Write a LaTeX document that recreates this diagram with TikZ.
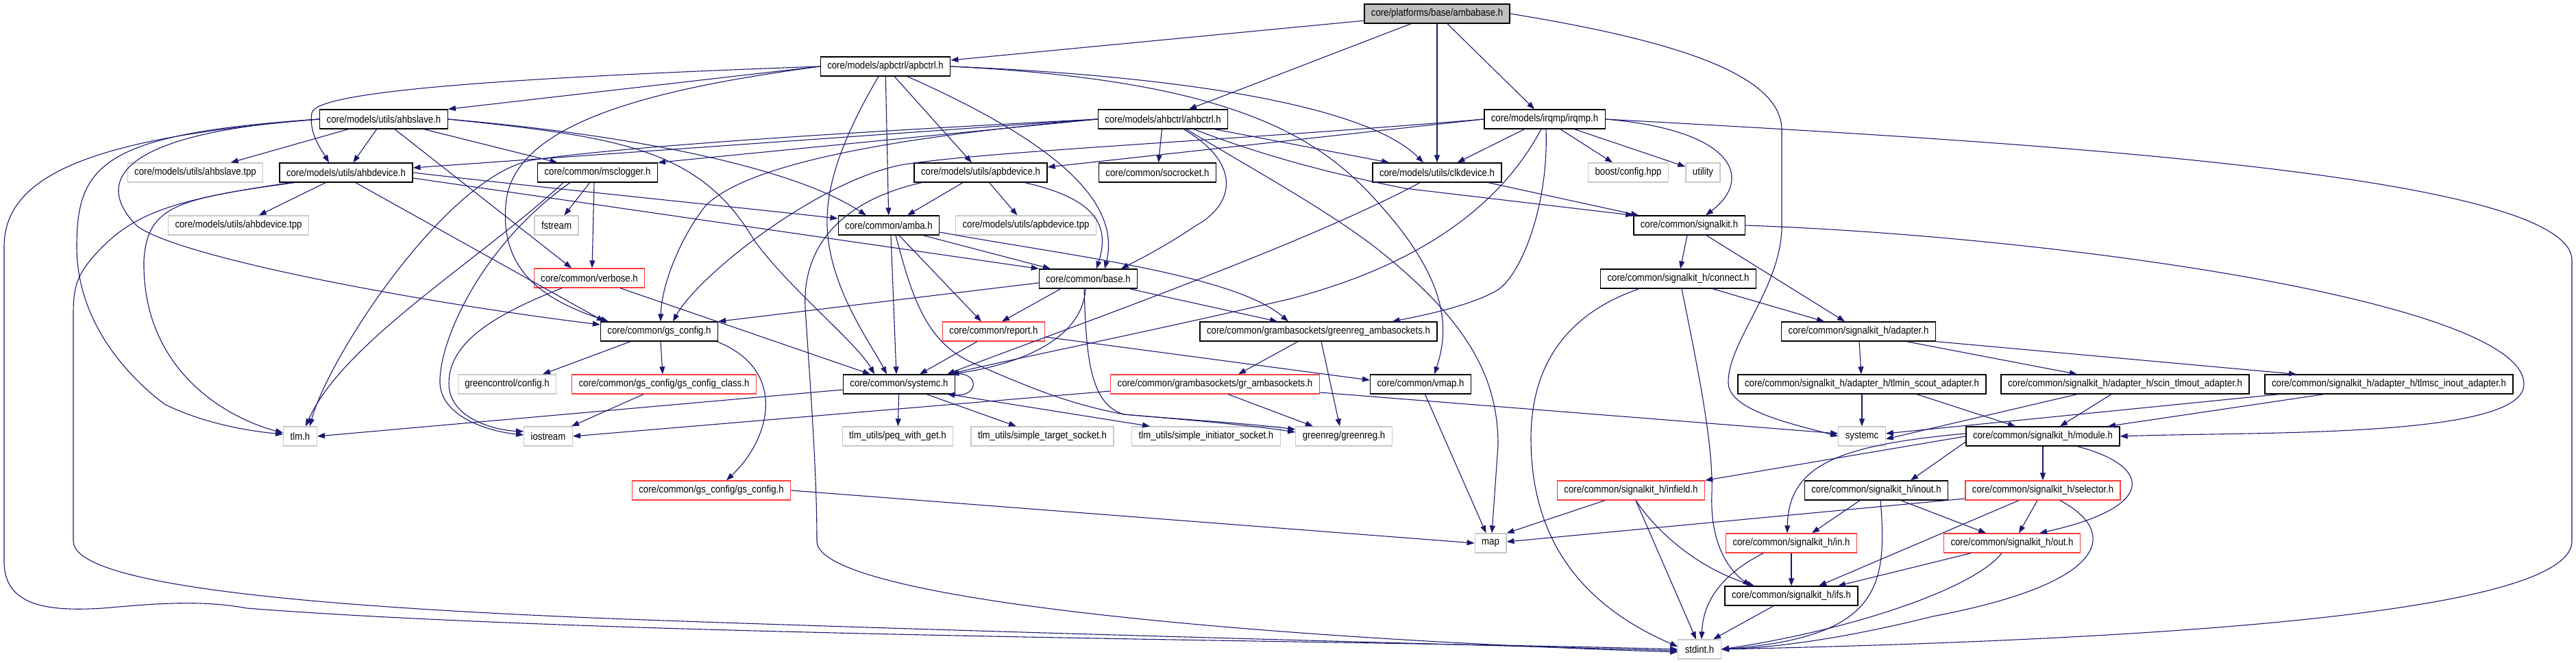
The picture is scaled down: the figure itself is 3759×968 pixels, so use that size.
\documentclass[tikz,border=0pt]{standalone}
\usepackage{fontspec}
\newfontfamily\dxfont{Liberation Sans}[FakeStretch=0.88]
\usetikzlibrary{arrows.meta}
\definecolor{edgeblue}{RGB}{25,25,112}
\definecolor{dxred}{RGB}{255,60,60}
\definecolor{dxgray}{RGB}{200,200,200}
\definecolor{dxfill}{RGB}{191,191,191}

\begin{document}
\begin{tikzpicture}[x=1pt, y=-1pt,
    box/.style={draw, fill=white, line width=1.3pt, minimum height=28pt,
      inner xsep=10pt, inner ysep=0pt, font=\dxfont\fontsize{15}{16}\selectfont},
    redbox/.style={box, draw=dxred},
    extbox/.style={box, draw=dxgray},
    topbox/.style={box, fill=dxfill},
    arrow/.style={->, draw=edgeblue, line width=1.1pt, >={Triangle[length=11pt, width=8pt]}},
  ]
  \useasboundingbox (0,0) rectangle (3759,968);

  % files
  \node[topbox] (ambabase) at (2097,20) {core/platforms/base/ambabase.h};
  \node[box] (apbctrl) at (1292,97) {core/models/apbctrl/apbctrl.h};
  \node[box] (ahbslave) at (560,174) {core/models/utils/ahbslave.h};
  \node[box] (ahbctrl) at (1697,174) {core/models/ahbctrl/ahbctrl.h};
  \node[box] (irqmp) at (2254,174) {core/models/irqmp/irqmp.h};
  \node[extbox] (ahbslavetpp) at (285,252) {core/models/utils/ahbslave.tpp};
  \node[box] (ahbdev) at (505,252) {core/models/utils/ahbdevice.h};
  \node[box] (msclog) at (872,252) {core/common/msclogger.h};
  \node[box] (apbdev) at (1431,252) {core/models/utils/apbdevice.h};
  \node[box] (socrocket) at (1689,252) {core/common/socrocket.h};
  \node[box] (clkdev) at (2097,252) {core/models/utils/clkdevice.h};
  \node[extbox] (boostcfg) at (2376,252) {boost/config.hpp};
  \node[extbox] (utility) at (2485,252) {utility};
  \node[extbox] (ahbdevtpp) at (348,329) {core/models/utils/ahbdevice.tpp};
  \node[extbox] (fstream) at (812,329) {fstream};
  \node[box] (amba) at (1297,329) {core/common/amba.h};
  \node[extbox] (apbdevtpp) at (1497,329) {core/models/utils/apbdevice.tpp};
  \node[box] (sigkit) at (2465,329) {core/common/signalkit.h};
  \node[redbox] (verbose) at (860,406) {core/common/verbose.h};
  \node[box] (base) at (1588,407) {core/common/base.h};
  \node[box] (connect) at (2449,407) {core/common/signalkit\_h/connect.h};
  \node[box] (gsconfig) at (962,484) {core/common/gs\_config.h};
  \node[redbox] (report) at (1450,484) {core/common/report.h};
  \node[box] (grambagreen) at (1924,484) {core/common/grambasockets/greenreg\_ambasockets.h};
  \node[box] (adapter) at (2712,484) {core/common/signalkit\_h/adapter.h};
  \node[extbox] (gccfg) at (740,561) {greencontrol/config.h};
  \node[redbox] (gscfgclass) at (969,561) {core/common/gs\_config/gs\_config\_class.h};
  \node[box] (sysc) at (1312,561) {core/common/systemc.h};
  \node[redbox] (grambas) at (1773,561) {core/common/grambasockets/gr\_ambasockets.h};
  \node[box] (vmap) at (2073,561) {core/common/vmap.h};
  \node[box] (scout) at (2717,561) {core/common/signalkit\_h/adapter\_h/tlmin\_scout\_adapter.h};
  \node[box] (scin) at (3101,561) {core/common/signalkit\_h/adapter\_h/scin\_tlmout\_adapter.h};
  \node[box] (scinout) at (3486,561) {core/common/signalkit\_h/adapter\_h/tlmsc\_inout\_adapter.h};
  \node[extbox] (tlmh) at (438,637) {tlm.h};
  \node[extbox] (iostream) at (800,637) {iostream};
  \node[extbox] (peq) at (1310,637) {tlm\_utils/peq\_with\_get.h};
  \node[extbox] (starget) at (1521,637) {tlm\_utils/simple\_target\_socket.h};
  \node[extbox] (sinit) at (1760,637) {tlm\_utils/simple\_initiator\_socket.h};
  \node[extbox] (greenreg) at (1961,637) {greenreg/greenreg.h};
  \node[extbox] (systemc) at (2717,637) {systemc};
  \node[box] (module) at (2981,637) {core/common/signalkit\_h/module.h};
  \node[redbox] (gscfggs) at (1038,716) {core/common/gs\_config/gs\_config.h};
  \node[redbox] (infield) at (2380,716) {core/common/signalkit\_h/infield.h};
  \node[box] (inout) at (2738,716) {core/common/signalkit\_h/inout.h};
  \node[redbox] (selector) at (2981,716) {core/common/signalkit\_h/selector.h};
  \node[extbox] (map) at (2175,793) {map};
  \node[redbox] (inh) at (2614,793) {core/common/signalkit\_h/in.h};
  \node[redbox] (outh) at (2936,793) {core/common/signalkit\_h/out.h};
  \node[box] (ifs) at (2614,870) {core/common/signalkit\_h/ifs.h};
  \node[extbox] (stdint) at (2480,948) {stdint.h};

  % ambabase.h
  \draw[arrow] (ambabase) -- (apbctrl);
  \draw[arrow] (ambabase) -- (ahbctrl);
  \draw[arrow] (ambabase) -- (clkdev);
  \draw[arrow] (ambabase) -- (irqmp);
  \draw[arrow] (ambabase.east) .. controls (2450,60) and (2600,110) .. (2600,190) -- (2600,330) .. controls (2600,420) and (2520,500) .. (2522,560) .. controls (2524,600) and (2620,620) .. (systemc.west);

  % apbctrl.h
  \draw[arrow] (apbctrl.west) .. controls (700,115) and (460,135) .. (455,165) .. controls (450,195) and (470,220) .. ([xshift=-25pt]ahbdev.north);
  \draw[arrow] (apbctrl.west) -- (ahbslave.north east);
  \draw[arrow] (apbctrl.west) .. controls (950,130) and (745,180) .. (738,300) .. controls (730,400) and (800,440) .. ([xshift=12pt]gsconfig.north west);
  \draw[arrow] ([xshift=-10pt]apbctrl.south) .. controls (1230,200) and (1205,270) .. (1207,330) .. controls (1210,420) and (1270,500) .. ([xshift=-18pt]sysc.north);
  \draw[arrow] (apbctrl) -- (amba);
  \draw[arrow] (apbctrl) -- (apbdev);
  \draw[arrow] ([xshift=32pt]apbctrl.south) .. controls (1500,190) and (1640,280) .. ([xshift=24pt]base.north);
  \draw[arrow] (apbctrl.east) .. controls (1700,110) and (1990,150) .. ([xshift=-20pt]clkdev.north);
  \draw[arrow] (apbctrl.east) .. controls (1850,120) and (1950,220) .. (2040,330) .. controls (2110,420) and (2115,480) .. ([xshift=20pt]vmap.north);

  % ahbslave.h
  \draw[arrow] (ahbslave) -- (ahbslavetpp);
  \draw[arrow] (ahbslave) -- (ahbdev);
  \draw[arrow] (ahbslave) -- (msclog);
  \draw[arrow] ([xshift=16pt]ahbslave.south) -- ([xshift=-26pt]verbose.north);
  \draw[arrow] (ahbslave.west) .. controls (150,200) and (6,250) .. (6,360) -- (6,820) .. controls (6,885) and (70,893) .. (150,888) .. controls (220,882) and (290,875) .. (360,888) .. controls (900,930) and (2000,935) .. (stdint.west);
  \draw[arrow] (ahbslave.west) .. controls (150,195) and (112,240) .. (112,360) .. controls (112,480) and (200,560) .. (240,590) .. controls (300,620) and (370,630) .. ([yshift=3pt]tlmh.west);
  \draw[arrow] (ahbslave.west) .. controls (160,195) and (140,270) .. (200,330) .. controls (260,375) and (600,440) .. ([yshift=10pt]gsconfig.west);
  \draw[arrow] (ahbslave.east) .. controls (900,195) and (1150,240) .. ([xshift=-33pt]amba.north);
  \draw[arrow] (ahbslave.east) .. controls (900,200) and (1020,215) .. (1100,350) .. controls (1150,420) and (1250,500) .. ([xshift=-36pt]sysc.north);

  % ahbdevice.h
  \draw[arrow] (ahbdev) -- (ahbdevtpp);
  \draw[arrow] ([xshift=-80pt]ahbdev.south) .. controls (260,290) and (200,310) .. (150,360) .. controls (110,400) and (107,420) .. (107,460) -- (107,790) .. controls (107,850) and (400,885) .. (940,905) .. controls (1500,925) and (2100,940) .. ([yshift=-2pt]stdint.west);
  \draw[arrow] ([xshift=-75pt]ahbdev.south) .. controls (260,290) and (215,300) .. (210,380) .. controls (207,540) and (330,610) .. ([yshift=5pt]tlmh.west);
  \draw[arrow] ([xshift=14pt]ahbdev.south) -- ([xshift=6pt]gsconfig.north west);
  \draw[arrow] (ahbdev.east) .. controls (800,275) and (1100,305) .. ([yshift=10pt]amba.west);
  \draw[arrow] ([yshift=-8pt]ahbdev.east) -- (base.north west);

  % msclogger.h
  \draw[arrow] (msclog) -- (fstream);
  \draw[arrow] ([xshift=-5pt]msclog.south) -- ([xshift=4pt]verbose.north);
  \draw[arrow] ([xshift=-40pt]msclog.south) .. controls (700,360) and (640,500) .. (642,560) .. controls (645,610) and (715,630) .. ([yshift=2pt]iostream.west);
  \draw[arrow] ([xshift=-50pt]msclog.south) .. controls (700,380) and (500,500) .. ([xshift=8pt]tlmh.north);

  % ahbctrl.h
  \draw[arrow] (ahbctrl) -- (socrocket);
  \draw[arrow] (ahbctrl.west) -- ([yshift=7pt]ahbdev.east);
  \draw[arrow] (ahbctrl.west) -- (msclog.north east);
  \draw[arrow] (ahbctrl.west) .. controls (1200,195) and (900,215) .. (775,234) .. controls (650,260) and (480,520) .. ([xshift=14pt]tlmh.north);
  \draw[arrow] (ahbctrl.west) .. controls (1300,200) and (1090,240) .. (1030,300) .. controls (990,350) and (965,420) .. ([xshift=2pt]gsconfig.north);
  \draw[arrow] ([xshift=30pt]ahbctrl.south) .. controls (1815,240) and (1800,300) .. (1744,330) .. controls (1700,360) and (1660,380) .. ([xshift=48pt]base.north);
  \draw[arrow] ([xshift=-20pt]ahbctrl.south east) -- ([xshift=-70pt]clkdev.north);
  \draw[arrow] ([xshift=45pt]ahbctrl.south) .. controls (1850,230) and (1950,255) .. (2050,275) -- (sigkit.north west);
  \draw[arrow] ([xshift=34pt]ahbctrl.south) .. controls (1850,260) and (1960,320) .. (2030,380) .. controls (2150,480) and (2186,560) .. (2186,650) -- ([xshift=2pt]map.north);

  % irqmp.h
  \draw[arrow] (irqmp) -- (clkdev);
  \draw[arrow] (irqmp) -- (boostcfg);
  \draw[arrow] (irqmp) -- (utility);
  \draw[arrow] (irqmp.east) .. controls (2530,190) and (2560,260) .. ([xshift=24pt]sigkit.north);
  \draw[arrow] (irqmp.east) .. controls (2900,205) and (3753,250) .. (3753,380) -- (3753,790) .. controls (3753,900) and (3100,935) .. (stdint.east);
  \draw[arrow] (irqmp.west) -- ([yshift=8pt]apbdev.east);
  \draw[arrow] (irqmp.west) .. controls (1800,205) and (1450,220) .. (1320,240) .. controls (1200,260) and (1020,400) .. ([xshift=20pt]gsconfig.north);
  \draw[arrow] ([xshift=-5pt]irqmp.south) .. controls (2200,280) and (2100,380) .. (1880,437) .. controls (1650,490) and (1450,530) .. ([xshift=-8pt]sysc.north east);
  \draw[arrow] ([xshift=2pt]irqmp.south) .. controls (2260,300) and (2220,400) .. (2186,423) .. controls (2150,445) and (2080,460) .. ([xshift=-66pt]grambagreen.north east);

  % clkdevice.h
  \draw[arrow] ([xshift=-25pt]clkdev.south) .. controls (1900,360) and (1500,500) .. ([xshift=-12pt]sysc.north east);
  \draw[arrow] ([xshift=-20pt]clkdev.south east) -- ([xshift=8pt]sigkit.north west);

  % signalkit.h
  \draw[arrow] (sigkit) -- (connect);
  \draw[arrow] ([xshift=25pt]sigkit.south) -- ([xshift=-20pt]adapter.north);
  \draw[arrow] (sigkit.east) .. controls (3000,345) and (3680,440) .. (3683,560) .. controls (3686,640) and (3300,630) .. (module.east);
  \draw[arrow] (connect) -- (adapter);
  \draw[arrow] ([xshift=-57pt]connect.south) .. controls (2280,460) and (2234,540) .. (2234,640) .. controls (2234,780) and (2300,880) .. ([yshift=4pt]stdint.west);
  \draw[arrow] ([xshift=5pt]connect.south) .. controls (2480,550) and (2500,650) .. (2498,720) .. controls (2495,790) and (2520,830) .. ([xshift=-60pt]ifs.north);

  % adapters
  \draw[arrow] (adapter) -- (scout);
  \draw[arrow] ([xshift=70pt]adapter.south) -- ([xshift=-70pt]scin.north);
  \draw[arrow] (adapter.south east) -- ([xshift=-135pt]scinout.north);
  \draw[arrow] (scout) -- (systemc);
  \draw[arrow] ([xshift=80pt]scout.south) -- ([xshift=-40pt]module.north);
  \draw[arrow] ([xshift=-70pt]scin.south) -- ([yshift=-4pt]systemc.east);
  \draw[arrow] ([xshift=-20pt]scin.south) -- ([xshift=25pt]module.north);
  \draw[arrow] ([xshift=-160pt]scinout.south) -- ([yshift=4pt]systemc.east);
  \draw[arrow] ([xshift=-95pt]scinout.south) -- ([xshift=95pt]module.north);

  % module.h and ports
  \draw[arrow] (module) -- (selector);
  \draw[arrow] ([xshift=50pt]module.south) .. controls (3140,680) and (3150,740) .. ([xshift=40pt]outh.north);
  \draw[arrow] (module.west) -- (infield.north east);
  \draw[arrow] ([yshift=-8pt]module.west) -- ([xshift=50pt]inout.north);
  \draw[arrow] ([yshift=4pt]module.west) .. controls (2680,650) and (2610,680) .. ([xshift=-6pt]inh.north);
  \draw[arrow] ([xshift=-24pt]inout.south) -- ([xshift=30pt]inh.north);
  \draw[arrow] ([xshift=36pt]inout.south) -- ([xshift=-38pt]outh.north);
  \draw[arrow] ([xshift=6pt]inout.south) .. controls (2755,860) and (2740,930) .. (stdint.east);
  \draw[arrow] ([xshift=-8pt]selector.south) -- ([xshift=10pt]outh.north);
  \draw[arrow] ([yshift=-12pt]selector.west) -- ([yshift=2pt]map.east);
  \draw[arrow] ([xshift=-35pt]selector.south) -- ([xshift=40pt]ifs.north);
  \draw[arrow] ([xshift=25pt]selector.south) .. controls (3090,775) and (3085,850) .. (2820,900) .. controls (2700,930) and (2600,945) .. (stdint.east);
  \draw[arrow] (inh) -- (ifs);
  \draw[arrow] ([xshift=-41pt]inh.south) .. controls (2510,840) and (2485,880) .. ([xshift=3pt]stdint.north);
  \draw[arrow] ([xshift=-60pt]outh.south) -- ([xshift=68pt]ifs.north);
  \draw[arrow] ([xshift=-15pt]outh.south) .. controls (2880,860) and (2700,920) .. (stdint.east);
  \draw[arrow] ([xshift=-38pt]infield.south) -- (map.north east);
  \draw[arrow] ([xshift=7pt]infield.south) .. controls (2420,780) and (2480,830) .. ([xshift=-54pt]ifs.north);
  \draw[arrow] ([xshift=7pt]infield.south) -- ([xshift=-5pt]stdint.north);
  \draw[arrow] ([xshift=-26pt]ifs.south) -- ([xshift=20pt]stdint.north);

  % report.h, base.h, amba.h
  \draw[arrow] ([xshift=-24pt]report.south) -- ([xshift=30pt]sysc.north);
  \draw[arrow] ([yshift=-8pt]report.east) -- ([yshift=6pt]vmap.west);
  \draw[arrow] ([yshift=-6pt]base.west) -- (gsconfig.north east);
  \draw[arrow] ([xshift=-40pt]base.south) -- ([xshift=12pt]report.north);
  \draw[arrow] ([xshift=-4pt]base.south) .. controls (1580,490) and (1500,530) .. ([xshift=-6pt]sysc.north east);
  \draw[arrow] ([xshift=60pt]base.south) -- ([xshift=-60pt]grambagreen.north);
  \draw[arrow] ([xshift=-6pt]base.south) .. controls (1585,520) and (1590,590) .. (1640,605) .. controls (1720,612) and (1820,618) .. ([yshift=10pt]greenreg.west);
  \draw[arrow] ([xshift=50pt]amba.south) -- ([xshift=-55pt]base.north);
  \draw[arrow] ([xshift=15pt]amba.south) -- ([xshift=-18pt]report.north);
  \draw[arrow] ([xshift=3pt]amba.south) -- ([xshift=-4pt]sysc.north);
  \draw[arrow] ([yshift=-10pt]amba.east) .. controls (1550,372) and (1800,400) .. ([xshift=-44pt]grambagreen.north);
  \draw[arrow] ([xshift=10pt]amba.south) .. controls (1330,430) and (1350,500) .. (1420,530) .. controls (1500,565) and (1560,590) .. (1640,605) .. controls (1720,612) and (1820,620) .. ([yshift=6pt]greenreg.west);

  % apbdevice.h
  \draw[arrow] ([xshift=-26pt]apbdev.south) -- ([xshift=27pt]amba.north);
  \draw[arrow] (apbdev) -- (apbdevtpp);
  \draw[arrow] ([xshift=64pt]apbdev.south) .. controls (1600,290) and (1620,330) .. ([xshift=12pt]base.north);
  \draw[arrow] ([xshift=-86pt]apbdev.south) .. controls (1240,290) and (1170,350) .. (1175,450) .. controls (1185,600) and (1192,700) .. (1192,790) .. controls (1192,880) and (1900,935) .. ([yshift=-4pt]stdint.west);

  % verbose.h, gs_config.h
  \draw[arrow] ([xshift=-40pt]verbose.south) .. controls (720,460) and (655,500) .. (655,560) .. controls (655,610) and (720,628) .. ([yshift=7pt]iostream.west);
  \draw[arrow] ([xshift=45pt]verbose.south) -- ([xshift=-42pt]sysc.north);
  \draw[arrow] ([xshift=-42pt]gsconfig.south) -- ([xshift=52pt]gccfg.north);
  \draw[arrow] ([xshift=2pt]gsconfig.south) -- ([xshift=-2pt]gscfgclass.north);
  \draw[arrow] ([xshift=84pt]gsconfig.south) .. controls (1150,540) and (1125,640) .. ([xshift=22pt]gscfggs.north);
  \draw[arrow] ([xshift=-30pt]gscfgclass.south) -- ([xshift=34pt]iostream.north);
  \draw[arrow] (gscfggs.east) -- (map.west);
  \draw[arrow] (vmap) -- (map);

  % systemc.h
  \draw[arrow] ([xshift=-5pt]sysc.north east) .. controls (1430,540) and (1430,580) .. ([xshift=-12pt]sysc.south east);
  \draw[arrow] ([yshift=-8pt]sysc.west) -- (tlmh.east);
  \draw[arrow] (sysc) -- (peq);
  \draw[arrow] ([xshift=40pt]sysc.south) -- ([xshift=-38pt]starget.north);
  \draw[arrow] ([xshift=72pt]sysc.south) -- ([xshift=-82pt]sinit.north);

  % amba sockets
  \draw[arrow] ([xshift=-30pt]grambagreen.south) -- ([xshift=34pt]grambas.north);
  \draw[arrow] ([xshift=4pt]grambagreen.south) -- ([xshift=-6pt]greenreg.north);
  \draw[arrow] ([yshift=-10pt]grambas.west) -- (iostream.east);
  \draw[arrow] ([xshift=19pt]grambas.south) -- ([xshift=-45pt]greenreg.north);
  \draw[arrow] ([yshift=-12pt]grambas.east) -- ([yshift=4pt]systemc.west);
\end{tikzpicture}
\end{document}
